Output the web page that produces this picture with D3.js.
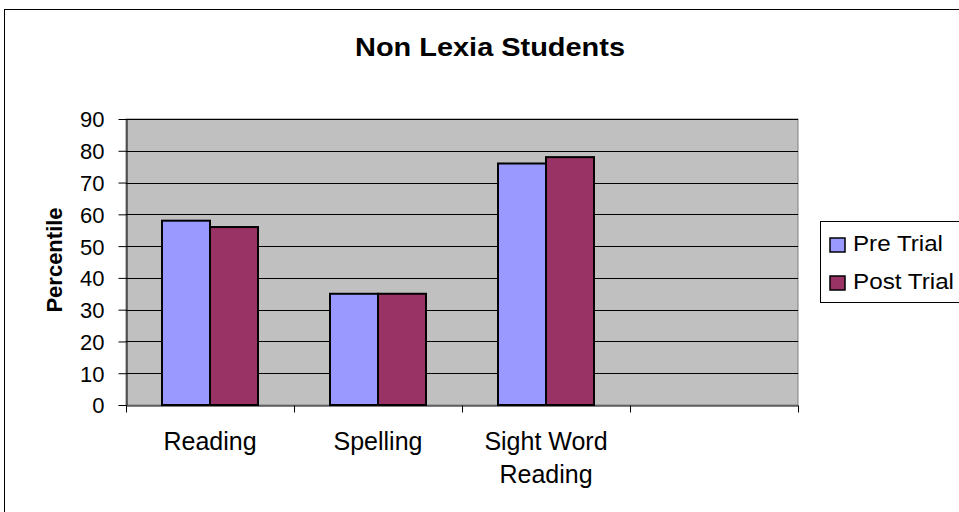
<!DOCTYPE html>
<meta charset="utf-8">
<title>Non Lexia Students</title>
<style>
body { margin: 0; background: #fff; font-family: "Liberation Sans", Arial, sans-serif; }
svg text { font-family: "Liberation Sans", Arial, sans-serif; }
</style>
<body>
<div id="chart"></div>
<script src="https://d3js.org/d3.v7.min.js"></script>
<script>
// chart values
var categories = ["Reading", "Spelling", "Sight Word Reading", ""];
var catLines = [["Reading"], ["Spelling"], ["Sight Word", "Reading"], []];
var series = ["Pre Trial", "Post Trial"];
var preTrial = [58, 35, 76];
var postTrial = [56, 35, 78];
var yTicks = [0, 10, 20, 30, 40, 50, 60, 70, 80, 90];
var colors = ["#9999FF", "#993366"];

var W = 959, H = 512;
var plot = {left: 126, top: 119, right: 798, bottom: 405};

var svg = d3.select("#chart").append("svg")
    .attr("width", W).attr("height", H);

// outer frame (cropped at right / bottom)
svg.append("rect")
    .attr("x", 4.5).attr("y", 9.5)
    .attr("width", W + 10).attr("height", H + 10)
    .attr("fill", "#fff").attr("stroke", "#000").attr("stroke-width", 1);

svg.append("text")
    .attr("x", 490).attr("y", 56)
    .attr("text-anchor", "middle")
    .attr("font-size", 25).attr("font-weight", "bold")
    .attr("textLength", 270).attr("lengthAdjust", "spacingAndGlyphs")
    .text("Non Lexia Students");

var x = d3.scaleBand().domain(d3.range(categories.length))
    .range([plot.left, plot.right]).paddingInner(0).paddingOuter(0);
var y = d3.scaleLinear().domain([0, 90]).range([plot.bottom, plot.top]);

var g = svg.append("g");

g.append("rect")
    .attr("x", plot.left).attr("y", plot.top)
    .attr("width", plot.right - plot.left).attr("height", plot.bottom - plot.top)
    .attr("fill", "#C0C0C0").attr("stroke", "#808080");

// gridlines
g.selectAll("line.grid").data(yTicks.filter(function(d) { return d > 0; }))
  .enter().append("line")
    .attr("x1", plot.left).attr("x2", plot.right)
    .attr("y1", function(d) { return Math.round(y(d)) + 0.5; })
    .attr("y2", function(d) { return Math.round(y(d)) + 0.5; })
    .attr("stroke", "#000").attr("stroke-width", 1);

// bars
var inner = d3.scaleBand().domain(d3.range(series.length))
    .range([0, x.bandwidth()]).paddingInner(0).paddingOuter(0.75);
var data = [preTrial, postTrial];
data.forEach(function(vals, si) {
  g.selectAll("rect.s" + si).data(vals).enter().append("rect")
    .attr("x", function(d, i) { return x(i) + inner(si); })
    .attr("y", function(d) { return y(d); })
    .attr("width", inner.bandwidth())
    .attr("height", function(d) { return plot.bottom - y(d); })
    .attr("fill", colors[si])
    .attr("stroke", "#000").attr("stroke-width", 2);
});

// y axis
var yAxis = d3.axisLeft(y).tickValues(yTicks).tickSize(8).tickSizeOuter(0).tickPadding(14);
var ya = svg.append("g").attr("transform", "translate(" + (plot.left + 0.5) + ",0)").call(yAxis);
ya.select(".domain").attr("stroke", "#000");
ya.selectAll("text").attr("font-size", 22).attr("fill", "#000")
    .attr("font-family", "Liberation Sans, Arial, sans-serif").attr("dy", "0.36em");

// x axis
var xAxis = d3.axisBottom(d3.scaleLinear().domain([0, categories.length]).range([plot.left, plot.right]))
    .tickValues(d3.range(categories.length + 1)).tickSize(7).tickSizeOuter(0).tickFormat("");
var xa = svg.append("g").attr("transform", "translate(0," + (plot.bottom + 0.5) + ")").call(xAxis);
xa.select(".domain").attr("stroke", "#000");

catLines.forEach(function(lines, i) {
  lines.forEach(function(t, j) {
    svg.append("text")
      .attr("x", x(i) + x.bandwidth() / 2)
      .attr("y", 450 + j * 33)
      .attr("text-anchor", "middle")
      .attr("font-size", 25)
      .text(t);
  });
});

svg.append("text")
    .attr("transform", "translate(62," + 260 + ") rotate(-90)")
    .attr("text-anchor", "middle")
    .attr("font-size", 22).attr("font-weight", "bold")
    .text("Percentile");

// legend
var lg = svg.append("g");
lg.append("rect")
    .attr("x", 820.5).attr("y", 221.5).attr("width", 150).attr("height", 81)
    .attr("fill", "#fff").attr("stroke", "#000");
var legendWidths = [90, 101];
series.forEach(function(s, i) {
  lg.append("rect")
    .attr("x", 830).attr("y", 238 + i * 38).attr("width", 15).attr("height", 14)
    .attr("fill", colors[i]).attr("stroke", "#000").attr("stroke-width", 1.5);
  lg.append("text")
    .attr("x", 853).attr("y", 251 + i * 38)
    .attr("font-size", 22)
    .attr("textLength", legendWidths[i]).attr("lengthAdjust", "spacingAndGlyphs")
    .text(s);
});
</script>
</body>
